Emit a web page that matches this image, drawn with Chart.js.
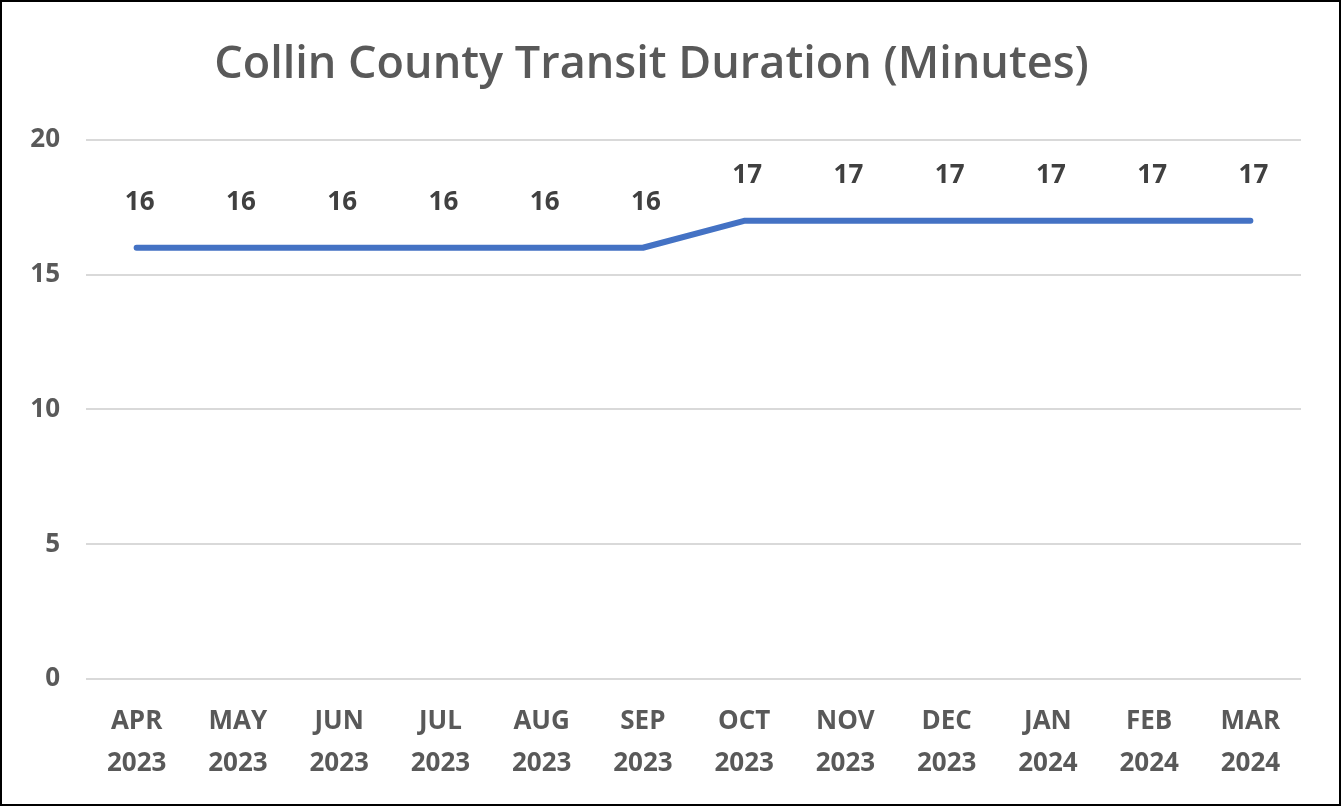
<!DOCTYPE html>
<html>
<head>
<meta charset="utf-8">
<script src="https://cdn.jsdelivr.net/npm/chart.js@4"></script>
<style>
    html, body { margin: 0; padding: 0; background: #fff; }
    #wrap {
        width: 1341px; height: 806px;
        box-sizing: border-box;
        border: 2px solid #000;
        position: relative;
    }
</style>
</head>
<body>
<div id="wrap"><canvas id="transitChart"></canvas></div>
<script>
// chart data
const months = ['APR', 'MAY', 'JUN', 'JUL', 'AUG', 'SEP', 'OCT', 'NOV', 'DEC', 'JAN', 'FEB', 'MAR'];
const years = ['2023', '2023', '2023', '2023', '2023', '2023', '2023', '2023', '2023', '2024', '2024', '2024'];
const durations = [16, 16, 16, 16, 16, 16, 17, 17, 17, 17, 17, 17];
const yTicks = [0, 5, 10, 15, 20];

const labels = months.map(function(m, i) { return [m, years[i]]; });
const fontFamily = '"Open Sans", "Liberation Sans", sans-serif';

// draws the value above each point
const valueLabels = {
    id: 'valueLabels',
    afterDatasetsDraw: function(chart) {
        const ctx = chart.ctx;
        const meta = chart.getDatasetMeta(0);
        ctx.save();
        ctx.font = 'bold 26px ' + fontFamily;
        ctx.fillStyle = '#404040';
        ctx.textAlign = 'center';
        ctx.textBaseline = 'middle';
        meta.data.forEach(function(pt, i) {
            ctx.fillText(String(durations[i]), pt.x + 3, pt.y - 45);
        });
        ctx.restore();
    }
};

document.addEventListener('DOMContentLoaded', function() {
    const ctx = document.getElementById('transitChart').getContext('2d');
    new Chart(ctx, {
        type: 'line',
        data: {
            labels: labels,
            datasets: [{
                label: 'Transit Duration',
                data: durations,
                borderColor: '#4472C4',
                borderWidth: 6,
                borderCapStyle: 'round',
                borderJoinStyle: 'round',
                pointRadius: 0,
                tension: 0,
                fill: false
            }]
        },
        options: {
            responsive: true,
            maintainAspectRatio: false,
            animation: false,
            layout: { padding: { left: 0, right: 38, top: 0, bottom: 6 } },
            plugins: {
                legend: { display: false },
                tooltip: { enabled: false },
                title: {
                    display: true,
                    text: 'Collin County Transit Duration (Minutes)',
                    color: '#595959',
                    font: { family: fontFamily, size: 45, weight: '600', lineHeight: 1.2 },
                    padding: { top: 36, bottom: 48 }
                }
            },
            scales: {
                x: {
                    offset: true,
                    grid: { display: false },
                    border: { display: false },
                    ticks: {
                        color: '#595959',
                        padding: 14,
                        maxRotation: 0,
                        autoSkip: false,
                        font: { family: fontFamily, size: 26, weight: 'bold', lineHeight: 1.6 }
                    }
                },
                y: {
                    min: 0,
                    max: 20,
                    afterFit: function(scale) { scale.width = 84; },
                    afterBuildTicks: function(scale) {
                        scale.ticks = yTicks.map(function(v) { return { value: v }; });
                    },
                    grid: { color: '#d9d9d9', lineWidth: 2, drawTicks: false },
                    border: { display: false },
                    ticks: {
                        color: '#595959',
                        padding: 26,
                        font: { family: fontFamily, size: 26, weight: 'bold' }
                    }
                }
            }
        },
        plugins: [valueLabels]
    });
});
</script>
</body>
</html>
